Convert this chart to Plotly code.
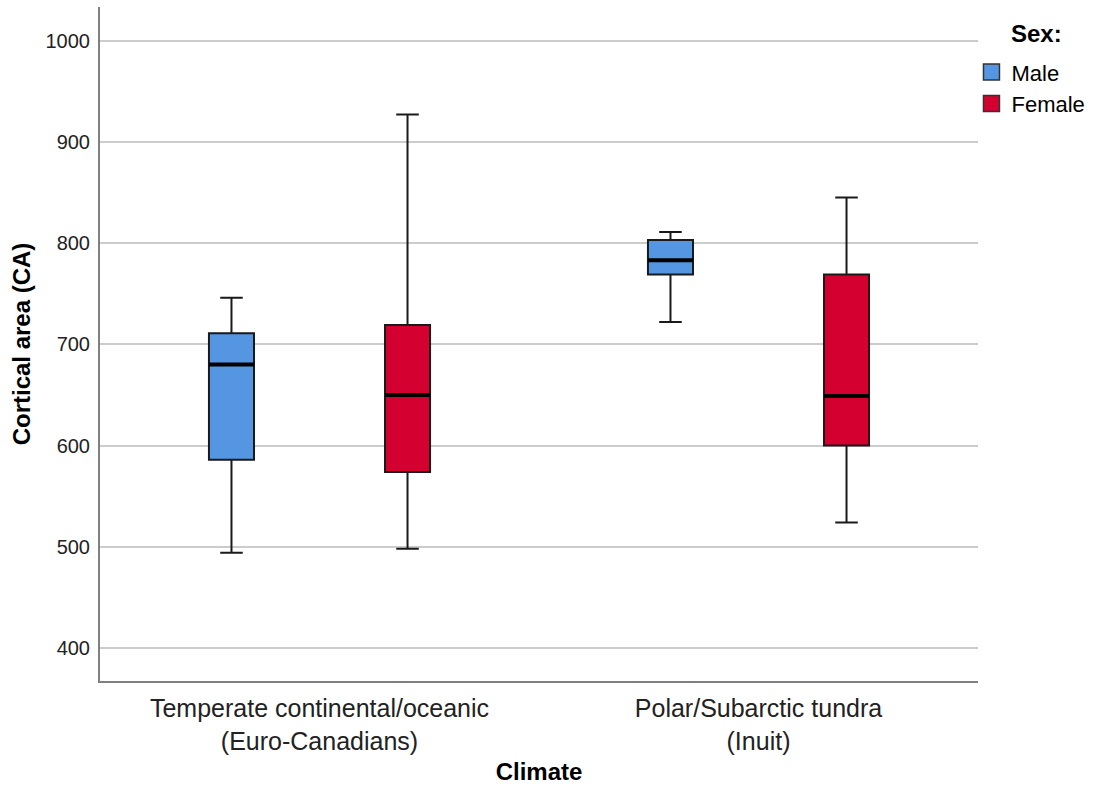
import plotly.graph_objects as go

# Climate groups on the x axis
climates = ["Temperate continental/oceanic<br>(Euro-Canadians)",
            "Polar/Subarctic tundra<br>(Inuit)"]

# Five-number summaries of cortical area (CA) per climate group
male_low = [494, 722]
male_q1 = [586, 769]
male_med = [680, 783]
male_q3 = [711, 803]
male_high = [746, 811]

female_low = [498, 524]
female_q1 = [574, 600]
female_med = [650, 649]
female_q3 = [719, 769]
female_high = [927, 845]

y_ticks = [400, 500, 600, 700, 800, 900, 1000]

MALE_FILL = "#5596E3"
FEMALE_FILL = "#D4002F"
EDGE = "#1a1a1a"

fig = go.Figure()


def add_group(name, group, fill, low, q1, med, q3, high):
    # box, whiskers and caps
    fig.add_trace(go.Box(
        x=climates, lowerfence=low, q1=q1, median=med, q3=q3, upperfence=high,
        name=name, offsetgroup=group, fillcolor=fill,
        line=dict(color=EDGE, width=2), whiskerwidth=0.5,
        boxpoints=False, showlegend=False, hoverinfo="skip",
    ))
    # heavier median stroke on top of the box
    fig.add_trace(go.Box(
        x=climates, lowerfence=med, q1=med, median=med, q3=med, upperfence=med,
        name=name, offsetgroup=group, fillcolor="rgba(0,0,0,0)",
        line=dict(color="#000000", width=4), whiskerwidth=1,
        boxpoints=False, showlegend=False, hoverinfo="skip",
    ))
    # legend entry
    fig.add_trace(go.Scatter(
        x=[None], y=[None], mode="markers", name=name, legendgroup=group,
        marker=dict(symbol="square", size=16, color=fill,
                    line=dict(color="#333333", width=1.5)),
    ))


add_group("Male", "m", MALE_FILL, male_low, male_q1, male_med, male_q3, male_high)
add_group("Female", "f", FEMALE_FILL, female_low, female_q1, female_med, female_q3, female_high)

FONT = "Liberation Sans, Arial, sans-serif"

fig.update_layout(
    width=1094, height=788,
    margin=dict(l=100, r=116, t=7, b=107, autoexpand=False),
    paper_bgcolor="white", plot_bgcolor="white",
    boxmode="group", boxgap=0.198, boxgroupgap=0.744,
    font=dict(family=FONT, color="#000000"),
    legend=dict(
        font=dict(size=22, family=FONT, color="#000"),
        xref="container", yref="container",
        x=0.888, xanchor="left", y=0.935, yanchor="top",
        tracegroupgap=0, bgcolor="rgba(0,0,0,0)",
    ),
    annotations=[dict(
        text="<b>Sex:</b>", xref="paper", yref="paper",
        x=1.0, xshift=58, y=1.0, yshift=-26, xanchor="center", yanchor="middle",
        showarrow=False, font=dict(size=24, family=FONT, color="#000"),
    )],
    xaxis=dict(
        automargin=False,
        showline=True, linecolor="#808080", linewidth=2,
        showgrid=False, ticks="", ticklabelstandoff=4,
        tickfont=dict(size=25, family=FONT, color="#222"),
        title=dict(text="<b>Climate</b>", font=dict(size=24, family=FONT, color="#000"),
                   standoff=10),
    ),
    yaxis=dict(
        automargin=False,
        range=[367.4, 1033.3], tickvals=y_ticks, ticktext=[str(v) for v in y_ticks],
        showline=True, linecolor="#808080", linewidth=2,
        showgrid=True, gridcolor="#cccccc", gridwidth=2, zeroline=False,
        ticks="", ticklabelstandoff=4,
        tickfont=dict(size=20, family=FONT, color="#222"),
        title=dict(text="<b>Cortical area (CA)</b>", font=dict(size=24, family=FONT, color="#000"),
                   standoff=8),
    ),
)

fig.write_html("out.html")
